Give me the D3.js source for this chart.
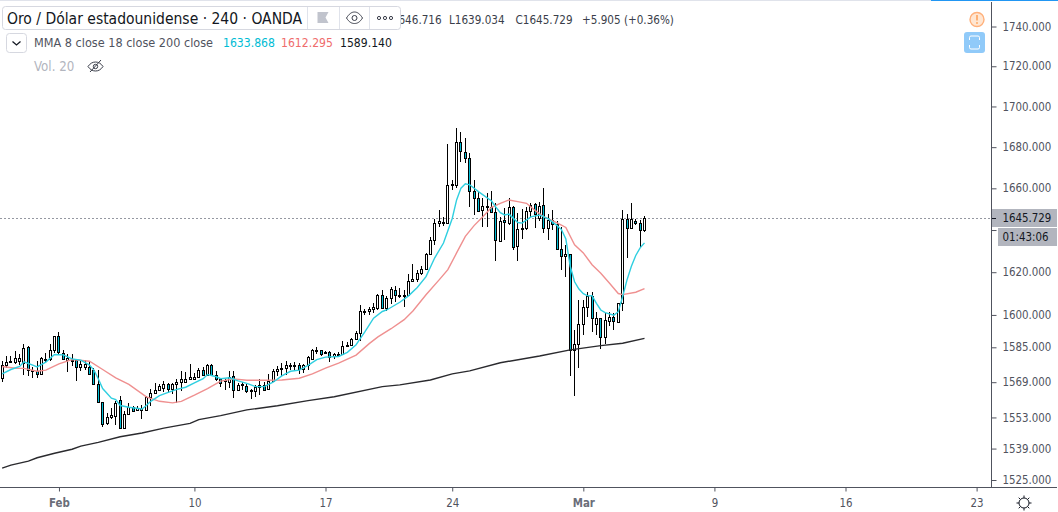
<!DOCTYPE html>
<html>
<head>
<meta charset="utf-8">
<script src="https://cdn.jsdelivr.net/npm/d3@7"></script>
<style>
html, body { margin: 0; padding: 0; background: #fff; overflow: hidden; }
text { font-family: "DejaVu Sans Condensed", "DejaVu Sans", sans-serif; }
</style>
</head>
<body>
<div id="chart"></div>
<script>
// 4h bars, one entry per bar
var opens = [1571.0,1576.8,1578.2,1578.2,1578.6,1577.9,1585.2,1574.8,1574.1,1572.8,1579.4,1579.4,1583.7,1590.4,1582.5,1579.1,1578.8,1579.1,1576.0,1576.0,1575.9,1574.8,1568.4,1560.0,1550.7,1553.0,1553.8,1561.1,1548.4,1554.5,1557.6,1556.2,1556.4,1556.4,1562.2,1564.2,1565.4,1566.4,1568.4,1566.1,1568.3,1569.0,1569.2,1570.6,1570.6,1571.5,1574.8,1572.5,1576.7,1572.2,1570.5,1569.6,1569.3,1572.0,1565.4,1567.6,1567.3,1565.4,1565.1,1566.7,1567.9,1565.7,1569.6,1573.9,1575.3,1575.3,1576.2,1576.2,1576.8,1575.0,1576.7,1579.7,1583.3,1583.6,1582.8,1582.8,1580.8,1581.3,1581.9,1585.6,1585.9,1588.8,1591.8,1601.6,1601.6,1602.7,1603.1,1609.4,1603.1,1607.8,1611.8,1608.9,1609.4,1609.4,1615.8,1616.7,1619.5,1621.5,1628.7,1635.3,1643.3,1643.8,1643.3,1661.6,1661.6,1682.7,1677.5,1674.6,1658.6,1655.2,1649.5,1650.9,1650.9,1648.8,1634.6,1644.6,1643.5,1650.9,1632.2,1640.3,1641.0,1649.3,1652.3,1645.9,1651.9,1640.8,1644.9,1642.9,1631.0,1627.6,1628.4,1583.8,1586.4,1595.7,1603.9,1609.0,1595.7,1598.5,1589.7,1597.3,1598.9,1596.8,1605.4,1645.1,1640.8,1644.4,1643.3,1640.2];
var highs = [1578.6,1580.9,1580.9,1583.2,1582.0,1586.3,1585.8,1576.0,1578.6,1580.5,1582.5,1586.3,1590.4,1592.2,1583.7,1581.7,1581.7,1579.7,1579.1,1579.1,1578.3,1575.6,1574.8,1560.0,1555.0,1557.3,1560.3,1562.9,1555.8,1559.6,1558.4,1558.4,1558.8,1562.6,1565.7,1568.7,1568.4,1569.5,1568.7,1568.7,1570.3,1574.1,1573.6,1577.1,1573.3,1575.6,1575.9,1577.4,1577.1,1573.9,1571.1,1570.5,1573.9,1573.9,1568.5,1569.0,1568.2,1565.7,1567.7,1570.3,1569.3,1572.8,1575.0,1576.2,1577.7,1578.8,1577.7,1578.2,1577.7,1577.4,1581.1,1584.4,1585.1,1583.9,1583.4,1583.1,1582.4,1582.7,1587.8,1587.3,1589.3,1592.7,1604.8,1602.8,1603.6,1605.5,1609.9,1611.8,1608.6,1613.0,1613.3,1612.6,1611.8,1619.2,1624.0,1621.2,1623.1,1629.1,1636.7,1645.5,1649.6,1646.3,1681.4,1664.2,1689.2,1687.6,1684.3,1677.0,1664.2,1658.4,1655.5,1657.6,1658.9,1652.8,1646.3,1650.4,1655.2,1651.5,1648.0,1649.9,1650.9,1652.8,1652.8,1653.3,1660.3,1647.5,1649.6,1644.1,1641.5,1633.0,1628.4,1593.0,1607.0,1607.0,1610.6,1610.9,1601.5,1598.7,1600.8,1601.5,1600.8,1605.7,1649.6,1647.6,1652.8,1645.5,1644.9,1646.716];
var lows = [1569.0,1575.6,1577.9,1577.4,1576.7,1572.5,1571.8,1571.0,1570.7,1572.5,1578.3,1578.6,1582.5,1582.1,1579.4,1573.6,1576.4,1569.5,1574.1,1574.8,1572.5,1567.7,1559.9,1548.9,1549.5,1552.4,1549.7,1547.7,1548.1,1554.2,1555.8,1555.8,1552.4,1556.2,1558.0,1563.8,1564.9,1564.6,1564.2,1563.8,1559.6,1564.9,1568.7,1570.3,1570.3,1571.0,1572.2,1572.2,1572.1,1569.6,1566.7,1565.4,1566.2,1562.0,1565.1,1565.4,1563.9,1561.3,1562.3,1563.1,1565.1,1565.4,1569.3,1571.9,1571.9,1572.4,1574.4,1574.4,1572.8,1573.4,1574.7,1579.3,1582.1,1581.1,1581.9,1578.2,1579.6,1580.8,1581.6,1585.1,1585.7,1588.2,1587.8,1599.8,1600.1,1601.1,1602.3,1602.6,1602.0,1605.1,1606.2,1607.8,1603.9,1608.6,1615.6,1615.6,1618.8,1620.9,1628.3,1633.0,1641.5,1642.1,1643.0,1659.2,1660.3,1673.0,1672.5,1650.9,1647.2,1648.8,1641.3,1641.3,1648.0,1625.2,1634.1,1635.4,1642.4,1630.7,1625.2,1635.9,1639.9,1646.3,1641.1,1644.1,1638.6,1635.4,1640.2,1630.7,1621.2,1617.9,1571.8,1562.7,1575.7,1590.7,1599.2,1592.2,1590.7,1584.1,1586.5,1595.0,1593.0,1596.4,1602.0,1626.5,1640.7,1642.4,1631.8,1639.034];
var closes = [1576.8,1578.3,1578.5,1580.3,1580.3,1584.7,1574.8,1574.1,1572.8,1579.9,1579.7,1583.7,1590.4,1582.8,1579.7,1580.3,1579.1,1575.9,1577.1,1577.1,1572.8,1568.3,1560.0,1550.1,1553.2,1554.2,1559.6,1548.1,1554.5,1557.6,1555.9,1557.3,1557.3,1562.2,1564.2,1565.4,1567.2,1568.0,1566.1,1568.4,1569.2,1570.3,1570.6,1571.6,1571.5,1574.8,1572.5,1576.7,1572.5,1570.3,1568.5,1570.0,1571.6,1565.4,1567.6,1568.2,1565.1,1565.1,1567.0,1567.9,1565.4,1569.6,1574.2,1575.0,1575.6,1576.8,1576.8,1576.8,1575.1,1576.8,1580.4,1583.6,1583.6,1581.7,1582.4,1580.5,1581.9,1581.7,1585.7,1586.1,1589.0,1591.8,1601.9,1601.9,1602.8,1603.6,1609.4,1603.1,1607.8,1612.1,1609.1,1609.4,1608.6,1615.8,1616.7,1619.5,1621.5,1628.7,1635.3,1643.3,1644.3,1643.3,1661.6,1661.9,1682.3,1678.0,1674.6,1658.6,1655.2,1649.0,1651.5,1651.5,1648.5,1635.3,1644.4,1644.0,1650.9,1632.0,1640.5,1641.0,1649.3,1652.0,1647.5,1651.5,1640.8,1644.9,1642.9,1631.0,1627.6,1628.7,1583.8,1586.4,1595.7,1603.9,1609.0,1598.5,1598.5,1589.7,1597.7,1598.9,1597.0,1605.4,1645.3,1640.8,1645.1,1643.2,1640.2,1645.729];

// moving averages, read at these bar numbers
var ma8Bars = [0,2,4,5,7,8,10,12,14,16,18,20,21,22,23,25,26,27,29,32,33,34,36,38,40,42,44,46,47,49,50,52,54,56,58,60,62,64,66,68,70,72,74,77,79,81,83,85,87,88,91,93,95,97,99,101,103,104,105,106,107,109,112,113,114,115,116,118,119,121,123,125,127,128,129,130,131,132,133,134,135,136,137,138,140,141,142,143,144,145,146,147];
var ma8Vals = [1572.8,1574.8,1576.2,1578.3,1576.8,1576.0,1578.2,1581.7,1581.5,1579.7,1579.1,1576.8,1574.5,1570.6,1566.1,1561.7,1561.1,1558.4,1557.6,1556.8,1558.4,1560.3,1562.9,1564.4,1565.7,1566.7,1568.7,1570.6,1572.5,1571.5,1570.6,1571.0,1569.6,1568.5,1567.0,1567.0,1569.0,1571.9,1574.0,1574.5,1576.7,1579.3,1580.5,1580.8,1582.7,1586.2,1592.1,1598.5,1601.6,1602.3,1605.9,1608.9,1612.8,1617.9,1626.8,1633.8,1645.5,1654.4,1660.1,1662.2,1661.7,1658.4,1653.9,1650.9,1648.3,1647.2,1647.6,1643.6,1643.3,1646.3,1647.2,1645.3,1642.1,1640.2,1635.7,1622.8,1615.5,1612.1,1609.9,1608.9,1609.0,1605.4,1602.3,1601.1,1599.9,1601.5,1608.6,1616.4,1622.8,1627.9,1631.5,1633.868];

var ma18Bars = [0,3,5,8,10,13,16,20,23,26,29,33,36,39,41,44,47,50,53,56,60,64,68,71,74,77,81,84,86,89,92,94,97,100,102,104,106,108,110,112,114,116,118,120,122,124,127,129,131,133,135,137,139,141,142,145,147];
var ma18Vals = [1576.2,1575.4,1575.3,1574.0,1574.5,1577.4,1579.4,1578.6,1574.8,1571.0,1568.0,1562.3,1560.3,1559.6,1560.3,1563.1,1566.1,1569.5,1570.5,1569.9,1569.9,1570.0,1570.8,1572.8,1575.4,1577.7,1581.4,1586.7,1589.8,1593.6,1597.8,1601.8,1609.4,1616.4,1621.2,1629.1,1637.0,1642.1,1646.3,1650.9,1652.8,1654.4,1653.6,1652.8,1649.3,1646.3,1643.4,1641.2,1633.0,1629.1,1623.5,1619.5,1614.8,1610.0,1609.5,1610.6,1612.295];

var ma200Bars = [0,2,6,8,12,16,18,22,27,32,37,43,45,50,56,63,70,76,87,91,98,103,107,114,123,130,137,142,147];
var ma200Vals = [1530.3,1531.6,1533.4,1534.9,1536.9,1538.7,1540.1,1541.8,1544.3,1546.0,1548.2,1550.3,1552.0,1553.8,1556.4,1558.3,1560.6,1562.4,1567.0,1567.8,1570.0,1572.8,1574.2,1577.9,1581.0,1583.8,1585.8,1586.9,1589.14];

var priceTicks = [1740,1720,1700,1680,1660,1640,1620,1600,1585,1569,1553,1539,1525];
var timeTickBars = [13,44,74,103,133,163,193,223];
var timeTickLabels = ["Feb","10","17","24","Mar","9","16","23"];
var lastPrice = 1645.729;

var w = 1058, h = 512;
var axisX = 991, axisY = 487;
var textColor = "#50535e";

var svg = d3.select("#chart").append("svg")
	.attr("width", w)
	.attr("height", h)
	.style("display", "block");

var xScale = d3.scaleLinear().domain([0, 223]).range([2.15, 976.6]);
var yScale = d3.scaleLog().domain([1525, 1740]).range([480, 26.5]);

// top strip
svg.append("rect").attr("x", 0).attr("y", 0).attr("width", 931).attr("height", 1).attr("fill", "#e0e3eb");
svg.append("rect").attr("x", 931).attr("y", 0).attr("width", 127).attr("height", 1).attr("fill", "#2196f3");

// last price line
svg.append("line")
	.attr("x1", 0).attr("x2", axisX)
	.attr("y1", Math.round(yScale(lastPrice)) + 0.5).attr("y2", Math.round(yScale(lastPrice)) + 0.5)
	.attr("stroke", "#9598a1")
	.attr("stroke-dasharray", "2 2");

// candles
var candles = svg.append("g").selectAll("g")
	.data(opens.map(function(o, i) { return i; }))
	.join("g");

candles.append("line")
	.attr("x1", function(i) { return Math.floor(xScale(i)) + 0.5; })
	.attr("x2", function(i) { return Math.floor(xScale(i)) + 0.5; })
	.attr("y1", function(i) { return Math.round(yScale(highs[i])); })
	.attr("y2", function(i) { return Math.round(yScale(lows[i])); })
	.attr("stroke", "#000");

candles.append("rect")
	.attr("x", function(i) { return Math.floor(xScale(i)) - 0.5; })
	.attr("width", 2)
	.attr("y", function(i) { return Math.round(yScale(Math.max(opens[i], closes[i]))) + 0.5; })
	.attr("height", function(i) { return Math.max(1, Math.round(yScale(Math.min(opens[i], closes[i]))) - Math.round(yScale(Math.max(opens[i], closes[i])))); })
	.attr("fill", function(i) { return closes[i] >= opens[i] ? "#fff" : "#00bcd4"; })
	.attr("stroke", "#000");

function drawLine(bars, vals, color, width) {
	var line = d3.line()
		.x(function(d) { return xScale(d); })
		.y(function(d, i) { return yScale(vals[i]); });
	svg.append("path")
		.datum(bars)
		.attr("fill", "none")
		.attr("stroke", color)
		.attr("stroke-width", width)
		.attr("d", line);
}
drawLine(ma200Bars, ma200Vals, "#2a2a2e", 1.4);
drawLine(ma18Bars, ma18Vals, "#ef9090", 1.4);
drawLine(ma8Bars, ma8Vals, "#2fcfe0", 1.4);

// axes
var yAxis = d3.axisRight(yScale)
	.tickValues(priceTicks)
	.tickSize(5)
	.tickPadding(6)
	.tickFormat(function(d) { return d == 1640 ? "" : d3.format(".3f")(d); });

var gy = svg.append("g").attr("transform", "translate(" + (axisX + 0.5) + ",0)").call(yAxis);
gy.select(".domain").remove();
gy.selectAll("line").attr("stroke", textColor);
gy.selectAll("text").attr("fill", textColor).style("font-size", "11.4px");

var xAxis = d3.axisBottom(xScale)
	.tickValues(timeTickBars)
	.tickSize(4)
	.tickPadding(7)
	.tickFormat(function(d, i) { return timeTickLabels[i]; });

var gx = svg.append("g").attr("transform", "translate(0," + (axisY + 0.5) + ")").call(xAxis);
gx.select(".domain").remove();
gx.selectAll("line").attr("stroke", textColor);
gx.selectAll("text").attr("fill", function(d, i) { return isNaN(+timeTickLabels[i]) ? "#6a6d78" : textColor; })
	.style("font-size", "11.4px")
	.style("font-weight", function(d, i) { return isNaN(+timeTickLabels[i]) ? "bold" : "normal"; });

svg.append("line").attr("x1", axisX + 0.5).attr("x2", axisX + 0.5).attr("y1", 2).attr("y2", axisY).attr("stroke", textColor);
svg.append("line").attr("x1", 0).attr("x2", 1057).attr("y1", axisY + 0.5).attr("y2", axisY + 0.5).attr("stroke", textColor);

// price and countdown labels
svg.append("rect").attr("x", axisX + 1).attr("y", 209).attr("width", 65).attr("height", 18).attr("fill", "#b2b5be");
svg.append("rect").attr("x", 998).attr("y", 228).attr("width", 59).attr("height", 18).attr("fill", "#b2b5be");
svg.append("line").attr("x1", axisX + 1).attr("x2", 996).attr("y1", 218.5).attr("y2", 218.5).attr("stroke", "#131722");
svg.append("text").attr("x", 1002.5).attr("y", 222).attr("fill", "#131722").style("font-size", "11.4px").text("1645.729");
svg.append("text").attr("x", 1002.5).attr("y", 241).attr("fill", "#131722").style("font-size", "11.4px").text("01:43:06");

// OHLC text, left part goes under the toolbar
function label(x, y, txt, color, size) {
	return svg.append("text").attr("x", x).attr("y", y).attr("fill", color).style("font-size", size + "px").text(txt);
}
label(384, 24, "H1646.716", "#3a3e4a", 11.6);
label(449, 24, "L1639.034", "#3a3e4a", 11.6);
label(515.5, 24, "C1645.729", "#3a3e4a", 11.6);
label(582, 24, "+5.905 (+0.36%)", "#3a3e4a", 11.6);

// title pill
svg.append("rect").attr("x", 2.5).attr("y", 6.5).attr("width", 398).attr("height", 23).attr("rx", 3)
	.attr("fill", "#fff").attr("stroke", "#d6d8e0");
[307.5, 339.5, 369.5].forEach(function(x) {
	svg.append("line").attr("x1", x).attr("x2", x).attr("y1", 7).attr("y2", 29).attr("stroke", "#e0e3eb");
});
label(7, 24, "Oro / Dólar estadounidense · 240 · OANDA", "#131722", 15.5);
// flag
svg.append("path").attr("d", "M317.5 12h11l-3 5.5l3 5.5h-11z").attr("fill", "#c1c4cd");
// eye
svg.append("path").attr("d", "M346.5 18c2.5-4 5-6 8-6s5.5 2 8 6c-2.5 4-5 5.5-8 5.5s-5.5-1.5-8-5.5z").attr("fill", "none").attr("stroke", "#3a3e4a");
svg.append("circle").attr("cx", 354.5).attr("cy", 18).attr("r", 2.5).attr("fill", "none").attr("stroke", "#3a3e4a");
// dots
[379, 385, 391].forEach(function(x) {
	svg.append("circle").attr("cx", x).attr("cy", 18).attr("r", 1.6).attr("fill", "none").attr("stroke", "#3a3e4a");
});

// legend rows
svg.append("rect").attr("x", 6.5).attr("y", 33.5).attr("width", 20).attr("height", 19).attr("rx", 3)
	.attr("fill", "#fff").attr("stroke", "#d6d8e0");
svg.append("path").attr("d", "M12.5 41.5l4 3.5l4-3.5").attr("fill", "none").attr("stroke", "#131722").attr("stroke-width", 1.3);
label(34, 47, "MMA 8 close 18 close 200 close", textColor, 12.55);
label(223, 47, "1633.868", "#00bcd4", 12.1);
label(281, 47, "1612.295", "#ef6c6c", 12.1);
label(340, 47, "1589.140", "#131722", 12.1);
label(34, 71, "Vol. 20", "#b2b5be", 13.2);
svg.append("path").attr("d", "M88 66.5c2-3 4.500-4.500 7.500-4.500s5.500 1.500 7.500 4.500c-2 3-4.500 4.500-7.500 4.500s-5.500-1.500-7.500-4.500z").attr("fill", "none").attr("stroke", "#3a3e4a");
svg.append("circle").attr("cx", 95.5).attr("cy", 66.5).attr("r", 2.2).attr("fill", "none").attr("stroke", "#3a3e4a");
svg.append("line").attr("x1", 90).attr("y1", 72).attr("x2", 101).attr("y2", 60).attr("stroke", "#3a3e4a");

// warning and auto-scale badges
svg.append("circle").attr("cx", 977).attr("cy", 19.5).attr("r", 7).attr("fill", "#ffe6d2").attr("stroke", "#ffb07a").attr("stroke-width", 1.4);
svg.append("line").attr("x1", 977).attr("x2", 977).attr("y1", 15).attr("y2", 20.5).attr("stroke", "#ffa45c").attr("stroke-width", 1.6);
svg.append("circle").attr("cx", 977).attr("cy", 23).attr("r", 0.9).attr("fill", "#ffa45c");
svg.append("rect").attr("x", 964).attr("y", 32).attr("width", 21).attr("height", 21).attr("rx", 3).attr("fill", "#90caf9");
svg.append("path").attr("d", "M969.500 40v-2.500a1.500 1.500 0 0 1 1.500-1.500h7a1.500 1.500 0 0 1 1.500 1.500v2.500M969.500 45v2.500a1.500 1.500 0 0 0 1.500 1.500h7a1.500 1.500 0 0 0 1.500-1.500v-2.500")
	.attr("fill", "none").attr("stroke", "#fff");

// settings gear
svg.append("circle").attr("cx", 1024).attr("cy", 503).attr("r", 5).attr("fill", "none").attr("stroke", "#131722");
d3.range(8).forEach(function(k) {
	var a = k * Math.PI / 4;
	svg.append("line")
		.attr("x1", 1024 + 5 * Math.cos(a)).attr("y1", 503 + 5 * Math.sin(a))
		.attr("x2", 1024 + 7.5 * Math.cos(a)).attr("y2", 503 + 7.5 * Math.sin(a))
		.attr("stroke", "#131722");
});
</script>
</body>
</html>
